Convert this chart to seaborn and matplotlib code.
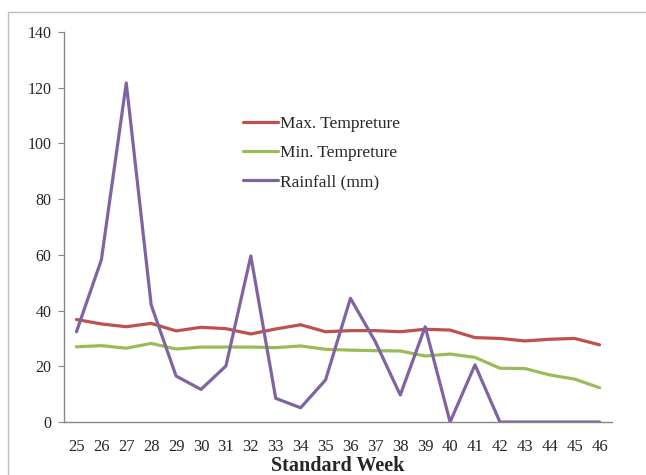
import numpy as np
import pandas as pd
import matplotlib
matplotlib.use("Agg")
import matplotlib.pyplot as plt
from matplotlib.patches import Rectangle
import seaborn as sns

weeks = [25, 26, 27, 28, 29, 30, 31, 32, 33, 34, 35, 36, 37, 38, 39, 40, 41, 42, 43, 44, 45, 46]
max_temp = [36.8, 35.2, 34.2, 35.4, 32.7, 34.0, 33.5, 31.6, 33.4, 34.9, 32.4, 32.8, 32.8, 32.4, 33.3, 33.0, 30.3, 30.0, 29.1, 29.7, 30.0, 27.7]
min_temp = [27.0, 27.4, 26.5, 28.2, 26.2, 26.9, 26.9, 26.9, 26.7, 27.3, 26.1, 25.8, 25.6, 25.5, 23.7, 24.4, 23.2, 19.3, 19.2, 16.9, 15.4, 12.3]
rainfall = [32.4, 58.2, 121.7, 42.0, 16.5, 11.7, 20.1, 59.6, 8.5, 5.1, 15.1, 44.4, 28.8, 9.7, 34.2, 0.0, 20.5, 0.0, 0.0, 0.0, 0.0, 0.0]
series_names = ["Max. Tempreture", "Min. Tempreture", "Rainfall (mm)"]
colors = ["#C0504D", "#9BBB59", "#8064A2"]

sns.set_style("white")
plt.rcParams['font.family'] = ['Liberation Serif', 'DejaVu Serif']

rows = []
for name, vals in zip(series_names, [max_temp, min_temp, rainfall]):
    for i, (w, v) in enumerate(zip(weeks, vals)):
        rows.append({"pos": i, "week": w, "value": v, "series": name})
df = pd.DataFrame(rows)

fig = plt.figure(figsize=(6.46, 4.75), dpi=100)
fig.patches.append(Rectangle((8/646, -0.05), 1.2, 1 - 12/475 + 0.05, transform=fig.transFigure,
                             fill=False, edgecolor="#BFBFBF", linewidth=1.0))
ax = fig.add_axes([64/646, 1 - 422/475, (612 - 64)/646, (422 - 32)/475])

sns.lineplot(data=df, x="pos", y="value", hue="series", hue_order=series_names,
             palette=colors, linewidth=2.3, ax=ax, legend=True)

ax.set_xlim(-0.5, len(weeks) - 0.5)
ax.set_ylim(0, 140)
ax.set_yticks(np.arange(0, 141, 20))
ax.set_xticks(range(len(weeks)))
ax.set_xticklabels([str(w) for w in weeks], fontsize=12)
ax.set_xticks(np.arange(-0.5, len(weeks), 1.0), minor=True)
ax.tick_params(axis="x", which="major", length=0, pad=12)
ax.tick_params(axis="x", which="minor", length=5, color="#868686", direction="out")
ax.tick_params(axis="y", length=4, color="#868686", direction="out", labelsize=11.5, pad=5)
ax.tick_params(axis="both", bottom=True, left=True)
for s in ["top", "right"]:
    ax.spines[s].set_visible(False)
for s in ["left", "bottom"]:
    ax.spines[s].set_color("#868686")
    ax.spines[s].set_linewidth(1.0)

ax.set_ylabel("")
ax.set_xlabel("Standard Week", fontsize=14.5, fontweight="bold", labelpad=1)

leg = ax.legend(loc="upper left", bbox_to_anchor=(0.298, 0.825), frameon=False,
                fontsize=12.5, handlelength=2.0, handletextpad=0.15, labelspacing=0.75)
for line in leg.get_lines():
    line.set_linewidth(2.3)

fig.savefig("out.png", dpi=100)
